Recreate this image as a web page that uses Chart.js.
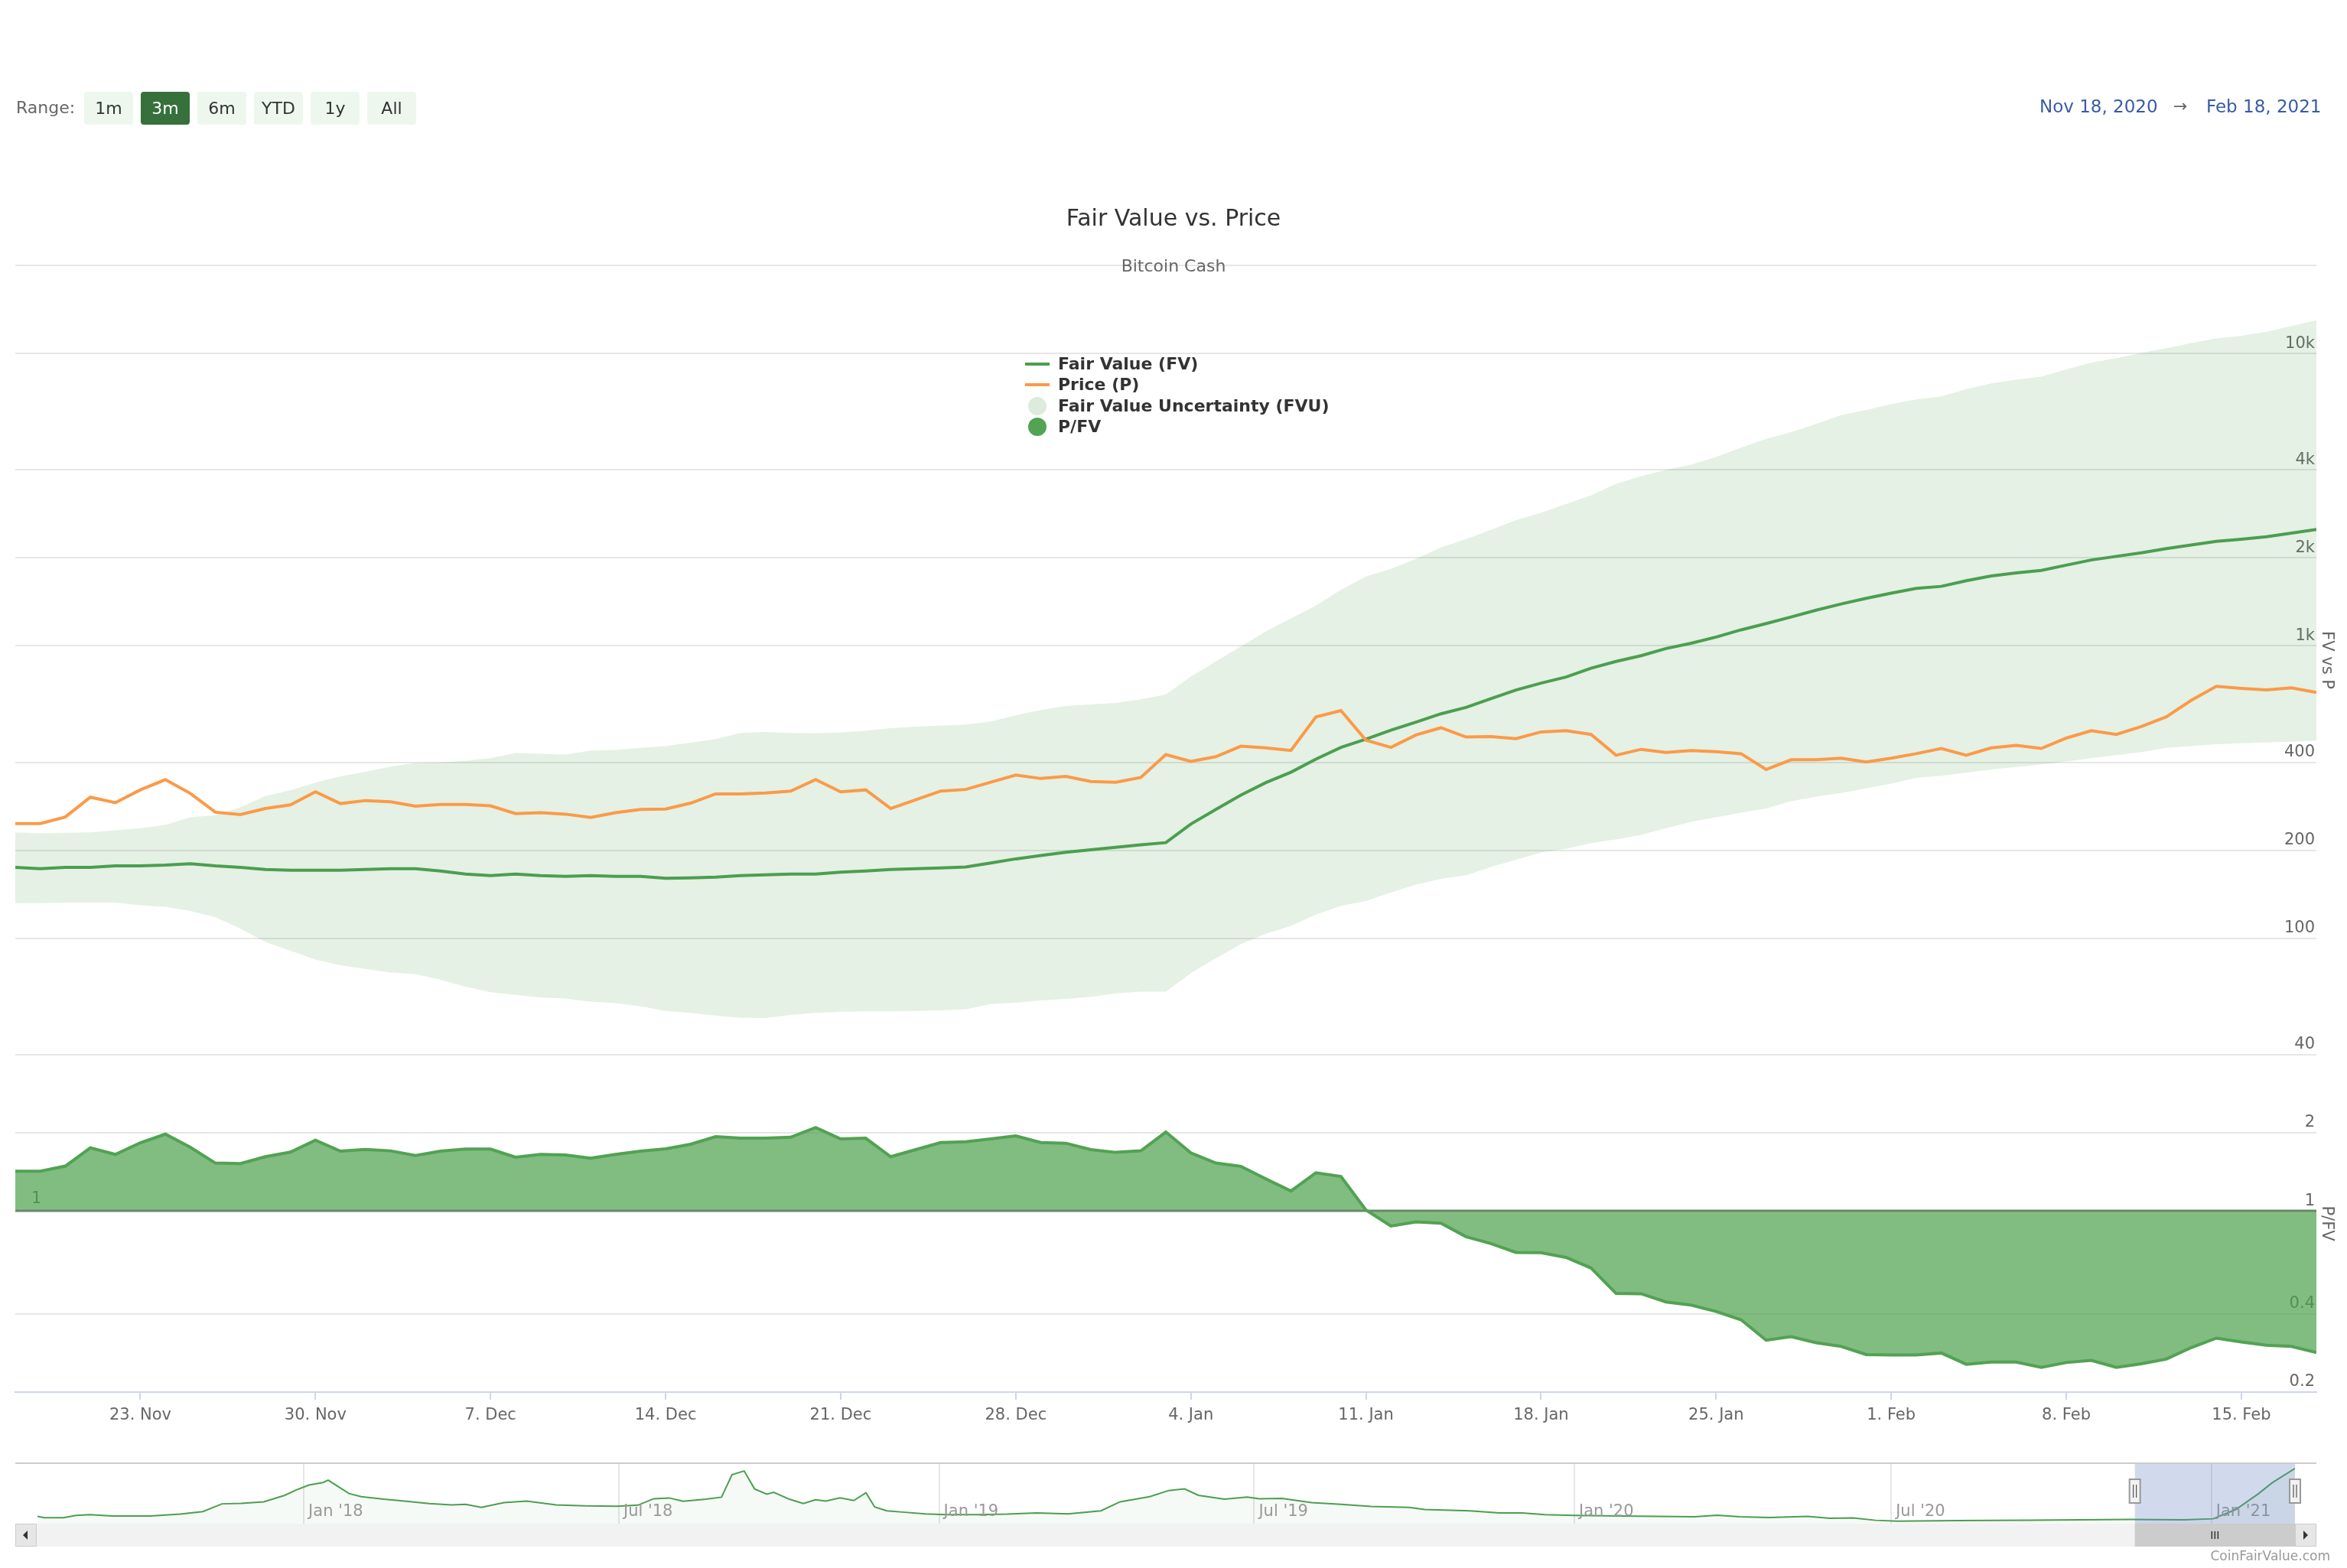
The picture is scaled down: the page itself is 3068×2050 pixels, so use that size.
<!DOCTYPE html>
<html>
<head>
<meta charset="utf-8">
<script src="https://cdn.jsdelivr.net/npm/chart.js@4.4.1/dist/chart.umd.min.js"></script>
<style>
  body { margin: 0; background: #fff; font-family: 'DejaVu Sans', Verdana, sans-serif; }
  #wrap { position: relative; width: 3068px; height: 2050px; overflow: hidden; background: #fff; }
  canvas { position: absolute; left: 0; }
  .abs { position: absolute; white-space: nowrap; }
  .btn { position: absolute; top: 120px; width: 64px; height: 43px; line-height: 43px; border-radius: 4px;
         background: #edf7ee; color: #333; font-size: 22px; text-align: center; }
  .btn.on { background: #36703b; color: #fff; }
  .leg { position: absolute; left: 1340px; width: 600px; height: 28px; line-height: 28px; font-size: 22px; font-weight: bold;
         color: #333; white-space: nowrap; }
  .leg .sym { position: absolute; left: 0; }
  .leg .txt { position: absolute; left: 43px; white-space: nowrap; }
</style>
</head>
<body>
<div id="wrap">
  <canvas id="mainChart" width="3068" height="1880" style="top:0"></canvas>
  <canvas id="navChart" width="3068" height="125" style="top:1900px"></canvas>

  <div class="abs" style="left:21px;top:127px;font-size:22px;line-height:28px;color:#666">Range:</div>
  <div class="btn" style="left:110px">1m</div>
  <div class="btn on" style="left:184px">3m</div>
  <div class="btn" style="left:258px">6m</div>
  <div class="btn" style="left:332px">YTD</div>
  <div class="btn" style="left:406px">1y</div>
  <div class="btn" style="left:480px">All</div>

  <div class="abs" style="left:2666px;top:125px;font-size:23px;line-height:28px;color:#3a5ba8">Nov 18, 2020</div>
  <div class="abs" style="left:2841px;top:125px;font-size:22px;line-height:28px;color:#666">&rarr;</div>
  <div class="abs" style="left:2884px;top:125px;font-size:23px;line-height:28px;color:#3a5ba8">Feb 18, 2021</div>

  <div class="abs" style="left:0;width:3068px;top:267px;text-align:center;font-size:30px;line-height:36px;color:#333">Fair Value vs. Price</div>
  <div class="abs" style="left:0;width:3068px;top:335px;text-align:center;font-size:22px;line-height:26px;color:#666">Bitcoin Cash</div>

  <div class="leg" style="top:462px"><span class="sym" style="top:12px;width:32px;height:4px;background:#4c9e50"></span><span class="txt">Fair Value (FV)</span></div>
  <div class="leg" style="top:489px"><span class="sym" style="top:12px;width:32px;height:4px;background:#fb9a48"></span><span class="txt">Price (P)</span></div>
  <div class="leg" style="top:517px"><span class="sym" style="left:4px;top:2px;width:24px;height:24px;border-radius:50%;background:#ddebdd"></span><span class="txt">Fair Value Uncertainty (FVU)</span></div>
  <div class="leg" style="top:544px"><span class="sym" style="left:4px;top:2px;width:24px;height:24px;border-radius:50%;background:#52a353"></span><span class="txt">P/FV</span></div>

  <div class="abs" style="right:22px;top:2022px;font-size:17px;line-height:24px;color:#999">CoinFairValue.com</div>
</div>

<script>
// daily series, 18 Nov 2020 .. 18 Feb 2021
const startDate = new Date(2020, 10, 18);
const monthNames = ['Jan', 'Feb', 'Mar', 'Apr', 'May', 'Jun', 'Jul', 'Aug', 'Sep', 'Oct', 'Nov', 'Dec'];

const price = [247, 247, 260, 304, 291, 322, 349, 313, 270, 265, 278, 286, 317, 289, 296, 293, 283, 287, 287, 284,
  267, 269, 266, 259, 269, 276, 277, 290, 312, 312, 314, 319, 349, 317, 322, 278, 298, 319, 323, 342,
  362, 352, 358, 344, 342, 355, 425, 403, 418, 454, 448, 439, 572, 601, 476, 450, 496, 525, 488, 490,
  482, 508, 513, 498, 423, 443, 432, 439, 435, 428, 378, 408, 408, 413, 401, 413, 428, 446, 423, 448,
  457, 446, 484, 513, 498, 530, 572, 652, 728, 716, 707, 719, 693];

const fairValue = [175, 173, 175, 175, 177, 177, 178, 180, 177, 175, 172, 171, 171, 171, 172, 173, 173, 170, 166, 164,
  166, 164, 163, 164, 163, 163, 160.5, 161, 162, 164, 165, 166, 166, 168.5, 170, 172, 173, 174, 175.5, 181,
  187, 192, 197, 201, 205, 209, 212.5, 246, 276, 309, 341, 370, 410, 450, 480, 515, 549, 586, 616, 660,
  707, 746, 783, 839, 885, 926, 980, 1021, 1072, 1135, 1192, 1256, 1325, 1391, 1455, 1515, 1572, 1598, 1671, 1734,
  1777, 1813, 1889, 1967, 2024, 2082, 2151, 2214, 2278, 2316, 2363, 2431, 2502];

const fvuUpper = [230.5, 228.7, 229.6, 230.5, 234.4, 238.3, 244.2, 259.5, 263.8, 280.4, 306.7, 320.8, 341, 358, 371.5, 386.9, 398, 399.6, 404.5, 413,
  430, 428, 425, 439, 440.8, 448, 454, 466.7, 480, 504.3, 508, 504, 502.2, 506.3, 512.6, 523, 530, 533.9, 538.3, 551.5,
  579.3, 603.4, 623.4, 631, 638.8, 657.3, 681.8, 786.3, 885, 996, 1121, 1241, 1374, 1553, 1727, 1835, 1983, 2170, 2316, 2492,
  2692, 2850, 3055, 3273, 3581, 3806, 3998, 4164, 4426, 4764, 5105, 5383, 5745, 6157, 6413, 6706, 6959, 7131, 7549, 7897,
  8124, 8325, 8814, 9293, 9640, 10040, 10420, 10850, 11250, 11490, 11870, 12410, 12980];

const fvuLower = [131.9, 131.9, 132.5, 132.5, 132.5, 129.8, 128.2, 124.1, 118.2, 108.1, 97.2, 90.7, 84.6, 80.9, 78.6, 76.4, 75.5, 72.2, 68.4, 65.4,
  64.1, 62.8, 62.3, 60.8, 60.1, 58.6, 56.5, 55.6, 54.5, 53.6, 53.4, 54.8, 55.6, 56.1, 56.3, 56.3, 56.5, 56.8, 57.2, 59.6,
  60.3, 61.3, 62.1, 63.1, 64.9, 65.7, 65.7, 76.1, 85.6, 95.6, 103.7, 110.3, 120.6, 129.3, 134.1, 143.7, 152.8, 159.8, 164.4, 175.5,
  185.8, 196.7, 202.4, 211.7, 217.8, 225.9, 238.3, 250.2, 259.5, 269, 278, 294.4, 305.5, 314, 326.1, 338.2, 353.7, 359.6, 368.5, 378,
  385.3, 393.2, 403, 413, 423, 433.7, 448, 455.3, 460.9, 464.6, 468.4, 470.4, 474.2];

const priceToFv = [1.423, 1.423, 1.488, 1.751, 1.651, 1.831, 1.977, 1.759, 1.529, 1.522, 1.618, 1.685, 1.874, 1.700, 1.727, 1.704, 1.636, 1.700, 1.731, 1.731,
  1.611, 1.651, 1.644, 1.596, 1.651, 1.700, 1.735, 1.807, 1.933, 1.907, 1.907, 1.924, 2.097, 1.894, 1.907, 1.618, 1.723, 1.835, 1.848, 1.894,
  1.946, 1.835, 1.823, 1.723, 1.681, 1.704, 2.013, 1.673, 1.529, 1.485, 1.329, 1.193, 1.403, 1.357, 1.008, 0.874, 0.906, 0.896, 0.795, 0.748,
  0.691, 0.690, 0.661, 0.602, 0.480, 0.479, 0.445, 0.433, 0.409, 0.380, 0.317, 0.327, 0.310, 0.300, 0.279, 0.278, 0.278, 0.283, 0.256, 0.261,
  0.261, 0.249, 0.260, 0.265, 0.249, 0.257, 0.268, 0.297, 0.323, 0.312, 0.303, 0.300, 0.284];

const dayIndex = price.map((_, i) => i);
const xTickDays = [5, 12, 19, 26, 33, 40, 47, 54, 61, 68, 75, 82, 89];
const fvTicks = [40, 100, 200, 400, 1000, 2000, 4000, 10000, 20000];
const fvTickLabels = ['40', '100', '200', '400', '1k', '2k', '4k', '10k', ''];
const pfvTicks = [0.2, 0.4, 1, 2, 4];
const pfvTickLabels = ['0.2', '0.4', '1', '2', ''];

// navigator: days since 1 Aug 2017
const navDays = [0, 4, 15, 22, 30, 43, 65, 82, 95, 106, 117, 130, 142, 149, 156, 164, 167, 173, 179, 186,
  199, 212, 225, 238, 246, 255, 268, 281, 298, 315, 333, 345, 354, 363, 371, 384, 393, 399, 406, 412,
  419, 423, 432, 440, 447, 453, 461, 469, 476, 481, 488, 497, 510, 522, 540, 557, 574, 592, 611, 622,
  639, 650, 659, 667, 682, 695, 702, 715, 732, 749, 766, 788, 797, 823, 840, 853, 866, 883, 909, 930,
  952, 965, 978, 995, 1017, 1030, 1043, 1056, 1069, 1103, 1146, 1202, 1233, 1250, 1263, 1276, 1284, 1297];
const navValues = [325, 267, 267, 371, 406, 348, 348, 429, 545, 893, 916, 986, 1276, 1531, 1740, 1856, 1960, 1659, 1357, 1218,
  1102, 1009, 905, 847, 870, 731, 951, 1021, 847, 800, 789, 835, 1125, 1160, 1009, 1102, 1195, 2204, 2378, 1566,
  1334, 1415, 1102, 905, 1079, 1021, 1160, 1044, 1392, 754, 580, 522, 441, 406, 406, 429, 487, 441, 580, 986,
  1218, 1496, 1566, 1276, 1102, 1195, 1125, 1137, 951, 870, 777, 731, 638, 580, 487, 487, 406, 371, 348, 325,
  313, 383, 313, 278, 325, 244, 255, 151, 116, 139, 151, 186, 174, 220, 638, 1350, 1850, 2494];
const navTickDays = [153, 334, 518, 699, 883, 1065, 1249];
const navTickLabels = ["Jan '18", "Jul '18", "Jan '19", "Jul '19", "Jan '20", "Jul '20", "Jan '21"];
const navSelection = [1205, 1297];

Chart.defaults.font.family = "'DejaVu Sans', Verdana, sans-serif";
Chart.defaults.color = '#666';

function dayLabel(v) {
  const d = new Date(startDate.getFullYear(), startDate.getMonth(), startDate.getDate() + v);
  return d.getDate() + '. ' + monthNames[d.getMonth()];
}

// gray line at P/FV = 1, drawn under the area fill
const ratioLine = {
  id: 'ratioLine',
  beforeDatasetsDraw(chart) {
    const ctx = chart.ctx;
    const y = chart.scales.y2.getPixelForValue(1);
    ctx.save();
    ctx.strokeStyle = '#7a7a7a';
    ctx.lineWidth = 3;
    ctx.beginPath();
    ctx.moveTo(chart.chartArea.left, y);
    ctx.lineTo(chart.chartArea.right, y);
    ctx.stroke();
    ctx.fillStyle = '#666';
    ctx.font = "21px 'DejaVu Sans'";
    ctx.textBaseline = 'middle';
    ctx.fillText('1', 41, y - 16);
    ctx.restore();
  }
};

new Chart(document.getElementById('mainChart').getContext('2d'), {
  type: 'line',
  data: {
    labels: dayIndex,
    datasets: [
      { label: 'Price (P)', data: price, yAxisID: 'y', borderColor: '#fb9a48', borderWidth: 4, fill: false },
      { label: 'Fair Value (FV)', data: fairValue, yAxisID: 'y', borderColor: '#4c9e50', borderWidth: 4, fill: false },
      { label: 'Fair Value Uncertainty (FVU)', data: fvuUpper, yAxisID: 'y', borderWidth: 0, borderColor: 'rgba(0,0,0,0)',
        backgroundColor: 'rgba(76,160,76,0.15)', fill: '+1' },
      { label: 'FVU low', data: fvuLower, yAxisID: 'y', borderWidth: 0, borderColor: 'rgba(0,0,0,0)', fill: false },
      { label: 'P/FV', data: priceToFv, yAxisID: 'y2', borderColor: '#52a253', borderWidth: 4,
        backgroundColor: 'rgba(76,160,76,0.7)', fill: { value: 1 } }
    ]
  },
  options: {
    responsive: false,
    animation: false,
    devicePixelRatio: 1,
    layout: { padding: { left: 20, right: 10, top: 347, bottom: 0 } },
    elements: { point: { radius: 0 }, line: { tension: 0 } },
    plugins: { legend: { display: false }, tooltip: { enabled: false } },
    scales: {
      x: {
        type: 'linear', min: 0, max: 92,
        afterBuildTicks: s => { s.ticks = xTickDays.map(v => ({ value: v })); },
        afterFit: s => { s.height = 60; },
        ticks: { callback: v => dayLabel(v), font: { size: 21 }, color: '#666', padding: 8, maxRotation: 0, autoSkip: false },
        grid: { drawOnChartArea: false, drawTicks: true, tickLength: 10, color: '#ccd6eb', lineWidth: 2 },
        border: { color: '#ccd6eb', width: 2 }
      },
      y: {
        type: 'logarithmic', position: 'right', stack: 'panels', stackWeight: 1032, min: 40, max: 20000,
        afterBuildTicks: s => { s.ticks = fvTicks.map(v => ({ value: v })); },
        afterFit: s => { s.width = 30; },
        ticks: { mirror: true, padding: -2, labelOffset: -13, font: { size: 21 }, color: '#666',
                 callback: v => fvTickLabels[fvTicks.indexOf(v)] },
        grid: { color: '#e6e6e6', lineWidth: 2, drawTicks: false },
        border: { display: false },
        title: { display: true, text: 'FV vs P', color: '#666', font: { size: 21 }, padding: { top: 4, bottom: 0 } }
      },
      y2: {
        type: 'logarithmic', position: 'right', stack: 'panels', stackWeight: 441, min: 0.2, max: 4,
        afterBuildTicks: s => { s.ticks = pfvTicks.map(v => ({ value: v })); },
        afterFit: s => { s.width = 30; },
        ticks: { mirror: true, padding: -2, labelOffset: -13, font: { size: 21 }, color: '#666',
                 callback: v => pfvTickLabels[pfvTicks.indexOf(v)] },
        grid: { color: '#e6e6e6', lineWidth: 2, drawTicks: false },
        border: { display: false },
        title: { display: true, text: 'P/FV', color: '#666', font: { size: 21 }, padding: { top: 4, bottom: 0 } }
      }
    }
  },
  plugins: [ratioLine]
});

// navigator decorations: labels, selection mask, handles, scrollbar
const navDecor = {
  id: 'navDecor',
  afterDraw(chart) {
    const ctx = chart.ctx;
    const { top, bottom } = chart.chartArea;
    const xs = chart.scales.x;
    ctx.save();
    ctx.font = "21px 'DejaVu Sans'";
    ctx.fillStyle = '#999';
    ctx.textBaseline = 'middle';
    navTickDays.forEach((d, i) => ctx.fillText(navTickLabels[i], xs.getPixelForValue(d) + 6, bottom - 15));

    const x0 = xs.getPixelForValue(navSelection[0]);
    const x1 = xs.getPixelForValue(navSelection[1]);
    ctx.fillStyle = 'rgba(102,133,194,0.3)';
    ctx.fillRect(x0, top, x1 - x0, bottom - top);

    // outline
    ctx.strokeStyle = '#cccccc';
    ctx.lineWidth = 2;
    ctx.beginPath();
    ctx.moveTo(20, top + 1);
    ctx.lineTo(3028, top + 1);
    ctx.stroke();

    // scrollbar
    const sTop = bottom, sH = 30;
    ctx.fillStyle = '#f2f2f2';
    ctx.fillRect(20, sTop, 3008, sH);
    ctx.fillStyle = '#cccccc';
    ctx.fillRect(x0, sTop, x1 - x0, sH);
    ctx.fillStyle = '#e6e6e6';
    ctx.strokeStyle = '#cccccc';
    ctx.lineWidth = 1;
    [[20, 28], [x1, 3028 - x1]].forEach(([bx, bw]) => {
      ctx.fillRect(bx, sTop, bw, sH);
      ctx.strokeRect(bx + 0.5, sTop + 0.5, bw - 1, sH - 1);
    });
    ctx.fillStyle = '#333';
    ctx.beginPath();
    ctx.moveTo(30, sTop + 15); ctx.lineTo(36, sTop + 9); ctx.lineTo(36, sTop + 21); ctx.closePath(); ctx.fill();
    const rx = x1 + (3028 - x1) / 2;
    ctx.beginPath();
    ctx.moveTo(rx + 3, sTop + 15); ctx.lineTo(rx - 3, sTop + 9); ctx.lineTo(rx - 3, sTop + 21); ctx.closePath(); ctx.fill();
    const gx = (x0 + x1) / 2;
    ctx.strokeStyle = '#333';
    ctx.lineWidth = 1.5;
    ctx.beginPath();
    [-4, 0, 4].forEach(o => { ctx.moveTo(gx + o, sTop + 10); ctx.lineTo(gx + o, sTop + 20); });
    ctx.stroke();

    // handles
    [x0, x1].forEach(hx => {
      ctx.fillStyle = '#f2f2f2';
      ctx.strokeStyle = '#999';
      ctx.lineWidth = 2;
      ctx.fillRect(hx - 7, top + 22, 14, 31);
      ctx.strokeRect(hx - 7, top + 22, 14, 31);
      ctx.strokeStyle = '#333';
      ctx.lineWidth = 1;
      ctx.beginPath();
      ctx.moveTo(hx - 2, top + 29); ctx.lineTo(hx - 2, top + 46);
      ctx.moveTo(hx + 2, top + 29); ctx.lineTo(hx + 2, top + 46);
      ctx.stroke();
    });
    ctx.restore();
  }
};

new Chart(document.getElementById('navChart').getContext('2d'), {
  type: 'line',
  data: {
    datasets: [{
      label: 'Navigator',
      data: navDays.map((d, i) => ({ x: d, y: navValues[i] })),
      borderColor: '#4c9e50', borderWidth: 2,
      backgroundColor: 'rgba(76,160,76,0.05)', fill: 'origin'
    }]
  },
  options: {
    responsive: false,
    animation: false,
    devicePixelRatio: 1,
    layout: { padding: { left: 49, right: 68, top: 12, bottom: 33 } },
    elements: { point: { radius: 0 }, line: { tension: 0 } },
    plugins: { legend: { display: false }, tooltip: { enabled: false } },
    scales: {
      x: {
        type: 'linear', min: 0, max: 1297,
        afterBuildTicks: s => { s.ticks = navTickDays.map(v => ({ value: v })); },
        afterFit: s => { s.height = 0; },
        ticks: { display: false },
        grid: { color: '#e6e6e6', lineWidth: 2, drawTicks: false },
        border: { display: false }
      },
      y: { display: false, min: 0, max: 2761 }
    }
  },
  plugins: [navDecor]
});
</script>
</body>
</html>
